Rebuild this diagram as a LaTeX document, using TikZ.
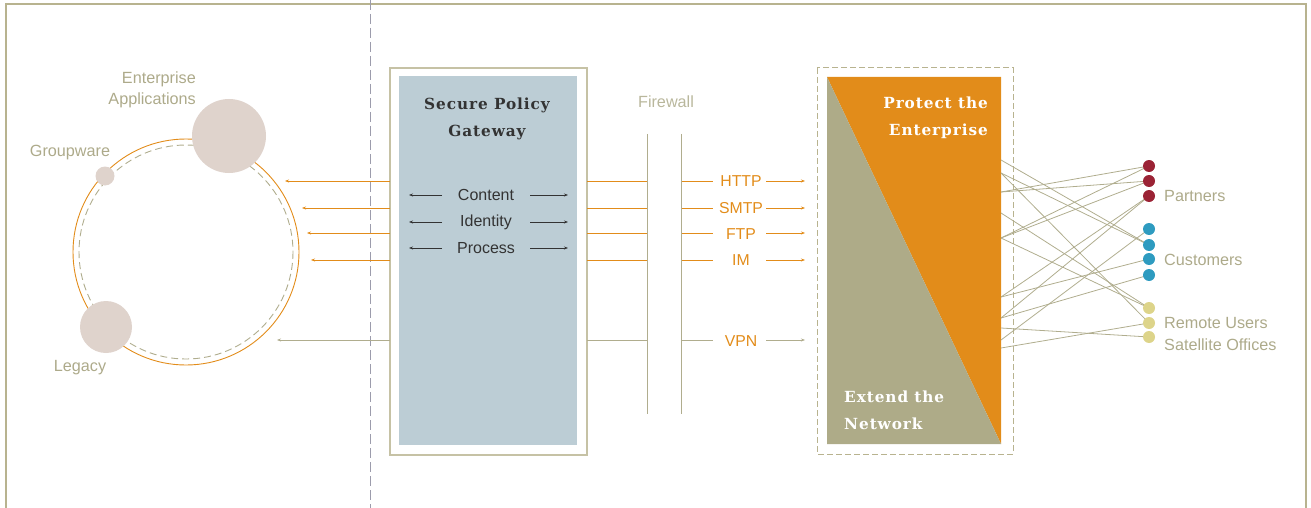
\documentclass[tikz,border=0pt]{standalone}
\usepackage{fontspec}
\setmainfont{Liberation Sans}
\newfontfamily\titlefont[LetterSpace=6]{DejaVu Serif}
\usetikzlibrary{arrows.meta}
\definecolor{frame}{HTML}{B8B38F}
\definecolor{olive}{HTML}{B0AD8E}
\definecolor{lbl}{HTML}{ADAA8A}
\definecolor{orng}{HTML}{E28C1A}
\definecolor{bubble}{HTML}{DFD3CC}
\definecolor{gwfill}{HTML}{BCCDD5}
\definecolor{triol}{HTML}{AEAB88}
\definecolor{dgray}{HTML}{333333}
\definecolor{vdash}{HTML}{9C9CAC}
\definecolor{partner}{HTML}{9B2335}
\definecolor{cust}{HTML}{2E9BC0}
\definecolor{remote}{HTML}{DDD48A}
\tikzset{
  lbltext/.style={text=lbl,font=\fontsize{16.2}{18}\selectfont,inner sep=0pt},
  prototext/.style={text=orng,font=\fontsize{15.8}{18}\selectfont,inner sep=0pt},
  gwtext/.style={text=dgray,font=\fontsize{16}{18}\selectfont,inner sep=0pt},
  titletext/.style={font=\titlefont\bfseries\fontsize{15.3}{27}\selectfont,inner sep=0pt,align=center},
  oline/.style={draw=orng,line width=0.9pt},
  gline/.style={draw=olive,line width=0.9pt},
  tip/.style={-{Stealth[length=4pt,width=3pt]}},
  net/.style={draw=olive,line width=0.8pt},
  dot/.style={circle,inner sep=0pt,minimum size=12pt},
}
\begin{document}
\begin{tikzpicture}[x=1pt,y=-1pt]
\useasboundingbox (0,0) rectangle (1311,508);
% outer frame
\draw[frame,line width=1.5pt] (6,508) -- (6,4) -- (1306,4) -- (1306,508);
\draw[vdash,line width=0.9pt,dash pattern=on 10pt off 4pt] (370,0) -- (370,508);

% left enterprise ring
\coordinate (ring) at (186,252);
\draw[orng,line width=0.9pt] (ring) circle[radius=113];
\draw[olive,line width=0.9pt,dash pattern=on 7pt off 4pt] (ring) circle[radius=107];
\node[circle,fill=bubble,minimum size=74pt,inner sep=0pt] (ea) at (229,136) {};
\node[circle,fill=bubble,minimum size=19pt,inner sep=0pt] (gw) at (105,176) {};
\node[circle,fill=bubble,minimum size=52pt,inner sep=0pt] (lg) at (106,327) {};
\node[lbltext,anchor=east] (eal1) at (196,79) {Enterprise};
\node[lbltext,anchor=east] (eal2) at (196,100) {Applications};
\node[lbltext] (gwl) at (70,153) {Groupware};
\node[lbltext] (lgl) at (80,368) {Legacy};

% gateway
\draw[draw=frame!80,line width=1.5pt] (390,68) rectangle (587,455);
\fill[gwfill] (399,76) rectangle (577,445);
\node[titletext,text=dgray] (gtitle) at (487,119) {Secure Policy\\Gateway};
\node[gwtext] (cnt) at (486,195) {Content};
\node[gwtext] (idn) at (486,222) {Identity};
\node[gwtext] (prc) at (486,248) {Process};
\foreach \n/\y in {cnt/195,idn/222,prc/248}{
  \draw[dgray,line width=0.7pt,tip] (442,\y) -- (409,\y);
  \draw[dgray,line width=0.7pt,tip] (530,\y) -- (568,\y);
}

% coordinates for protocol lanes
\coordinate (gl1) at (390,181); \coordinate (gl2) at (390,208);
\coordinate (gl3) at (390,233); \coordinate (gl4) at (390,260);
\coordinate (gl5) at (390,340);
\coordinate (el1) at (285,181); \coordinate (el2) at (302,208);
\coordinate (el3) at (307,233); \coordinate (el4) at (311,260);
\coordinate (el5) at (277,340);
\foreach \i in {1,2,3,4}{\draw[oline,tip] (gl\i) -- (el\i);}
\draw[gline,tip] (gl5) -- (el5);

% firewall
\coordinate (fa1) at (647,134); \coordinate (fa2) at (647,414);
\coordinate (fb1) at (681,134); \coordinate (fb2) at (681,414);
\draw[gline] (fa1) -- (fa2);
\draw[gline] (fb1) -- (fb2);
\node[lbltext,text=lbl!85] (fwl) at (666,102) {Firewall};
\foreach \i/\y in {1/181,2/208,3/233,4/260}{
  \draw[oline] (587,\y) -- (647,\y);
}
\draw[gline] (587,340) -- (647,340);

% protocol labels
\node[prototext] (http) at (741,181) {HTTP};
\node[prototext] (smtp) at (741,208) {SMTP};
\node[prototext] (ftp) at (741,234) {FTP};
\node[prototext] (im) at (741,260) {IM};
\node[prototext] (vpn) at (741,341) {VPN};
\foreach \n/\y in {http/181,smtp/208,ftp/233,im/260}{
  \draw[oline] (682,\y) -- (713,\y);
  \draw[oline,tip] (766,\y) -- (805,\y);
}
\draw[gline] (682,340) -- (713,340);
\draw[gline,tip] (766,340) -- (805,340);

% right panel
\draw[frame,line width=1pt,dash pattern=on 6pt off 3pt] (817,68) rectangle (1013,454);
\fill[orng] (827,77) -- (1001,77) -- (1001,444) -- cycle;
\fill[triol] (827,77) -- (1001,444) -- (827,444) -- cycle;
\node[titletext,text=white,anchor=north east,align=right] (prot) at (988,97) {Protect the\\Enterprise};
\node[titletext,text=white,anchor=north west,align=left] (ext) at (844,391) {Extend the\\Network};

% network endpoints
\foreach \n/\y in {a/160,b/173,c/192,d/213,e/238,f/297,g/318,h/328,i/340,j/348}{
  \coordinate (s\n) at (1001,\y);
}
\coordinate (p1) at (1149,166);
\coordinate (p2) at (1149,181);
\coordinate (p3) at (1149,196);
\coordinate (c1) at (1149,229);
\coordinate (c2) at (1149,245);
\coordinate (c3) at (1149,259);
\coordinate (c4) at (1149,275);
\coordinate (r1) at (1149,308);
\coordinate (r2) at (1149,323);
\coordinate (r3) at (1149,337);
\foreach \s/\t in {a/c2,b/c2,c/p1,c/p2,e/p1,e/p2,d/r1,e/r1,f/p3,g/p3,i/c1,f/c3,g/c4,h/r3,j/r2,b/r2}{
  \draw[net] (s\s) -- (\t);
}
\node[dot,fill=partner] (np1) at (p1) {};
\node[dot,fill=partner] (np2) at (p2) {};
\node[dot,fill=partner] (np3) at (p3) {};
\node[dot,fill=cust] (nc1) at (c1) {};
\node[dot,fill=cust] (nc2) at (c2) {};
\node[dot,fill=cust] (nc3) at (c3) {};
\node[dot,fill=cust] (nc4) at (c4) {};
\node[dot,fill=remote] (nr1) at (r1) {};
\node[dot,fill=remote] (nr2) at (r2) {};
\node[dot,fill=remote] (nr3) at (r3) {};
\node[lbltext,anchor=west] (pl) at (1164,196) {Partners};
\node[lbltext,anchor=west] (cl) at (1164,260) {Customers};
\node[lbltext,anchor=west] (rl) at (1164,323) {Remote Users};
\node[lbltext,anchor=west] (sl) at (1164,345) {Satellite Offices};
\end{tikzpicture}
\end{document}
